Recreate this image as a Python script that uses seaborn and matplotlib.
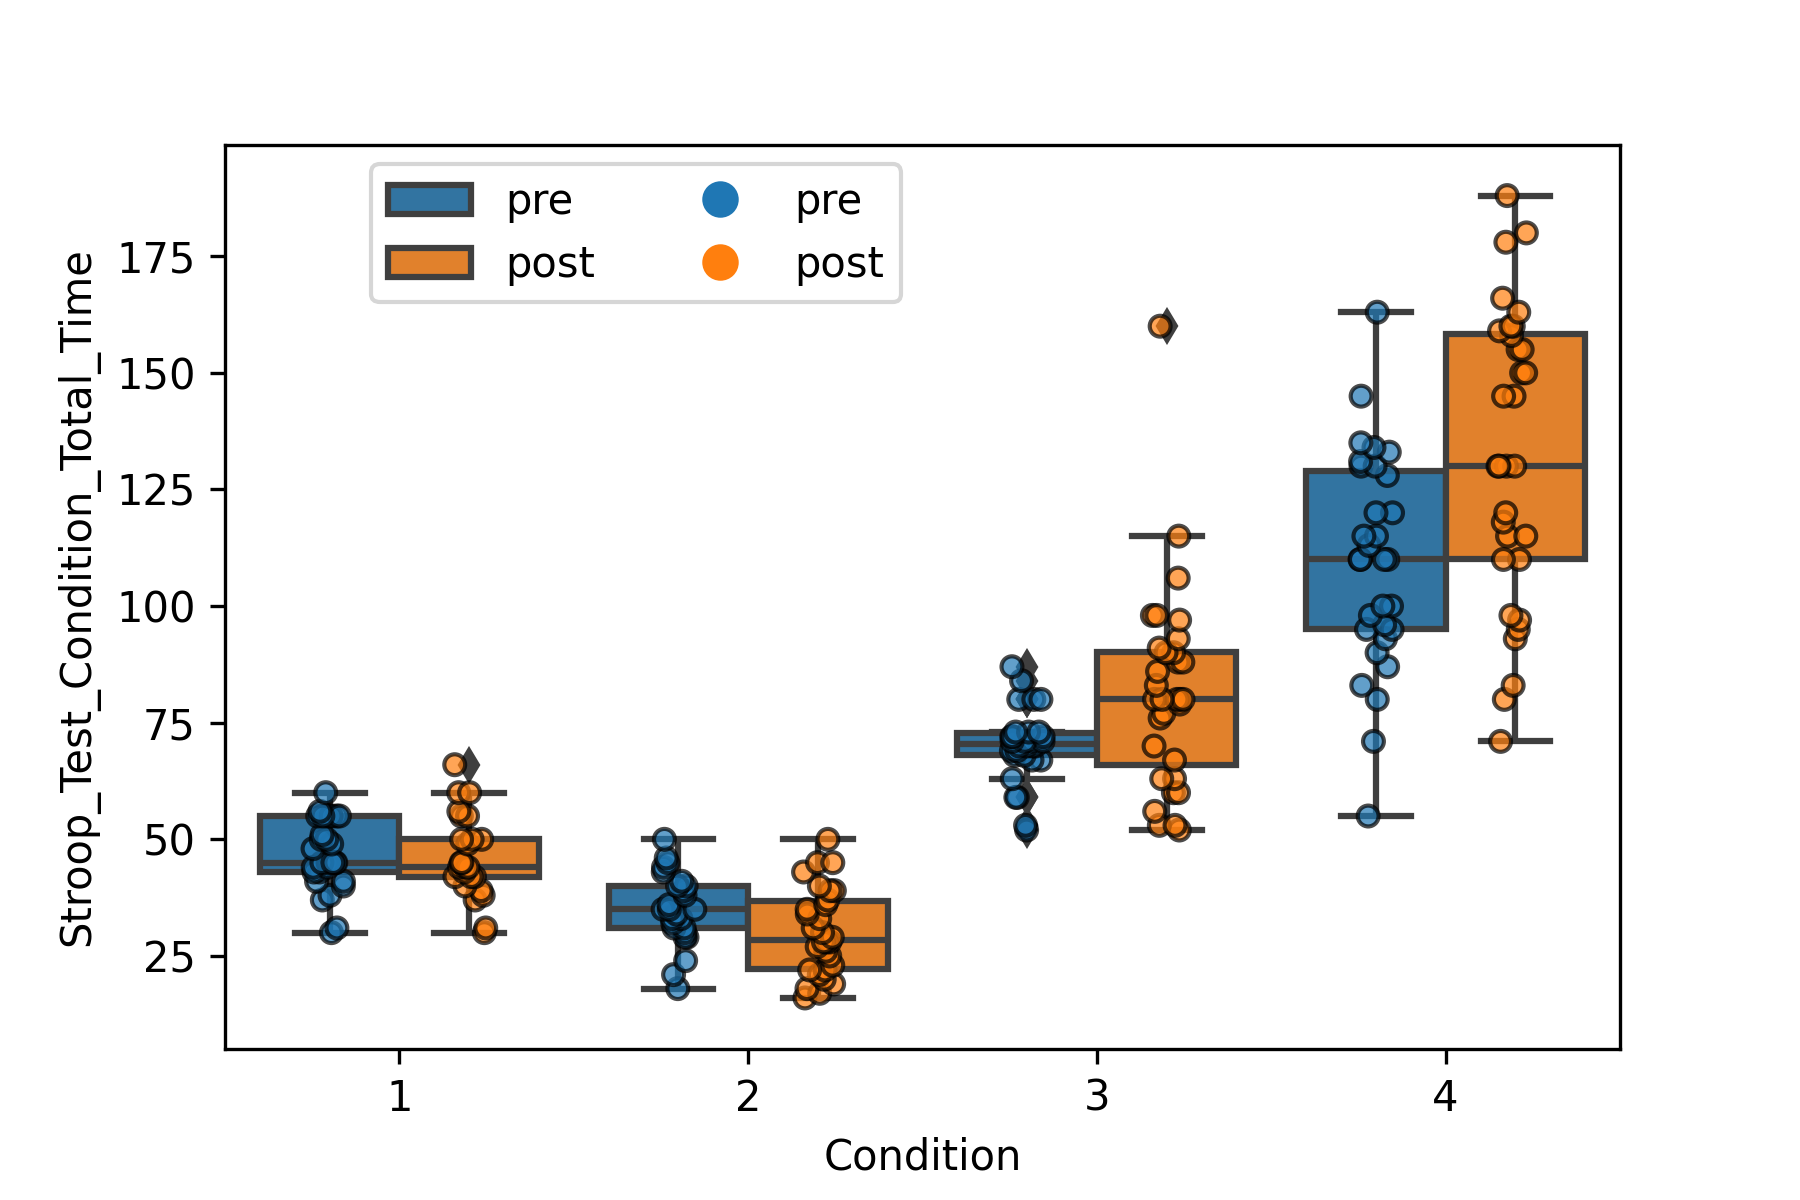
import numpy as np
import pandas as pd
import matplotlib
matplotlib.use("Agg")
import matplotlib.pyplot as plt
import seaborn as sns
from matplotlib.patches import Patch
from matplotlib.lines import Line2D

# ---- data ----
conditions = ["1", "2", "3", "4"]
phases = ["pre", "post"]

pre_c1 = [30, 31, 37, 38, 40, 41, 41, 43, 43, 44, 44, 45, 45, 45, 45, 45, 48, 49, 50, 50, 51,
          55, 55, 55, 55, 55, 55, 56, 60]
post_c1 = [30, 31, 37, 38, 39, 40, 42, 42, 42, 43, 44, 44, 44, 45, 45, 49, 50, 50, 50, 55, 55,
           56, 60, 60, 66]
pre_c2 = [18, 21, 24, 29, 29, 30, 31, 31, 32, 33, 33, 34, 35, 35, 35, 36, 38, 39, 40, 40, 41,
          43, 44, 45, 46, 50]
post_c2 = [16, 17, 18, 19, 20, 21, 22, 22, 23, 25, 26, 27, 28, 28, 28, 29, 30, 31, 33, 34, 35,
           36, 37, 39, 39, 40, 43, 45, 45, 50]
pre_c3 = [52, 53, 59, 59, 63, 67, 67, 68, 68, 69, 69, 70, 70, 70, 70, 71, 71, 71, 71, 72, 72,
          72, 73, 73, 73, 80, 80, 80, 84, 87]
post_c3 = [52, 53, 53, 56, 60, 60, 63, 63, 67, 70, 76, 77, 79, 80, 80, 80, 80, 80, 83, 86, 88,
           88, 90, 90, 91, 93, 97, 98, 98, 106, 115, 160]
pre_c4 = [55, 71, 80, 83, 87, 90, 93, 95, 95, 96, 98, 100, 100, 110, 110, 110, 110, 113, 115,
          115, 120, 120, 128, 130, 130, 131, 133, 134, 135, 145, 163]
post_c4 = [71, 80, 83, 93, 95, 97, 98, 110, 110, 115, 115, 118, 120, 130, 130, 130, 130, 145,
           145, 150, 150, 155, 155, 158, 159, 160, 160, 163, 166, 178, 180, 188]

groups = {
    ("1", "pre"): pre_c1, ("1", "post"): post_c1,
    ("2", "pre"): pre_c2, ("2", "post"): post_c2,
    ("3", "pre"): pre_c3, ("3", "post"): post_c3,
    ("4", "pre"): pre_c4, ("4", "post"): post_c4,
}
rows = []
for (cond, ph), vals in groups.items():
    for v in vals:
        rows.append({"Condition": cond, "Time": ph, "Stroop_Test_Condition_Total_Time": v})
df = pd.DataFrame(rows)

palette = ["#1f77b4", "#ff7f0e"]
gray = "#3f3f3f"

np.random.seed(3)
fig, ax = plt.subplots(figsize=(6, 4), dpi=300)
fig.subplots_adjust(left=0.125, right=0.9, bottom=0.126, top=0.879)

sns.boxplot(data=df, x="Condition", y="Stroop_Test_Condition_Total_Time", hue="Time",
            order=conditions, hue_order=phases, palette=palette, saturation=0.75,
            linecolor=gray, linewidth=1.5, fliersize=5,
            flierprops=dict(marker="d", markerfacecolor=gray, markeredgecolor=gray),
            legend=False, ax=ax)
sns.stripplot(data=df, x="Condition", y="Stroop_Test_Condition_Total_Time", hue="Time",
              order=conditions, hue_order=phases, palette=palette, dodge=True,
              size=5, linewidth=1, edgecolor="black", alpha=0.7, legend=False, ax=ax)

ax.set_ylim(5.1, 198.8)
ax.set_yticks([25, 50, 75, 100, 125, 150, 175])
ax.set_xlabel("Condition")
ax.set_ylabel("Stroop_Test_Condition_Total_Time")

box_handles = [Patch(facecolor=sns.desaturate(c, 0.75), edgecolor=gray, linewidth=1.5)
               for c in palette]
dot_handles = [Line2D([], [], marker="o", linestyle="", markersize=7.75,
                      markerfacecolor=c, markeredgecolor=c, markeredgewidth=1)
               for c in palette]
ax.legend(box_handles + dot_handles, phases + phases, ncol=2, loc="upper left",
          bbox_to_anchor=(0.105, 0.979), borderaxespad=0)

fig.savefig("out.png", dpi=300)
